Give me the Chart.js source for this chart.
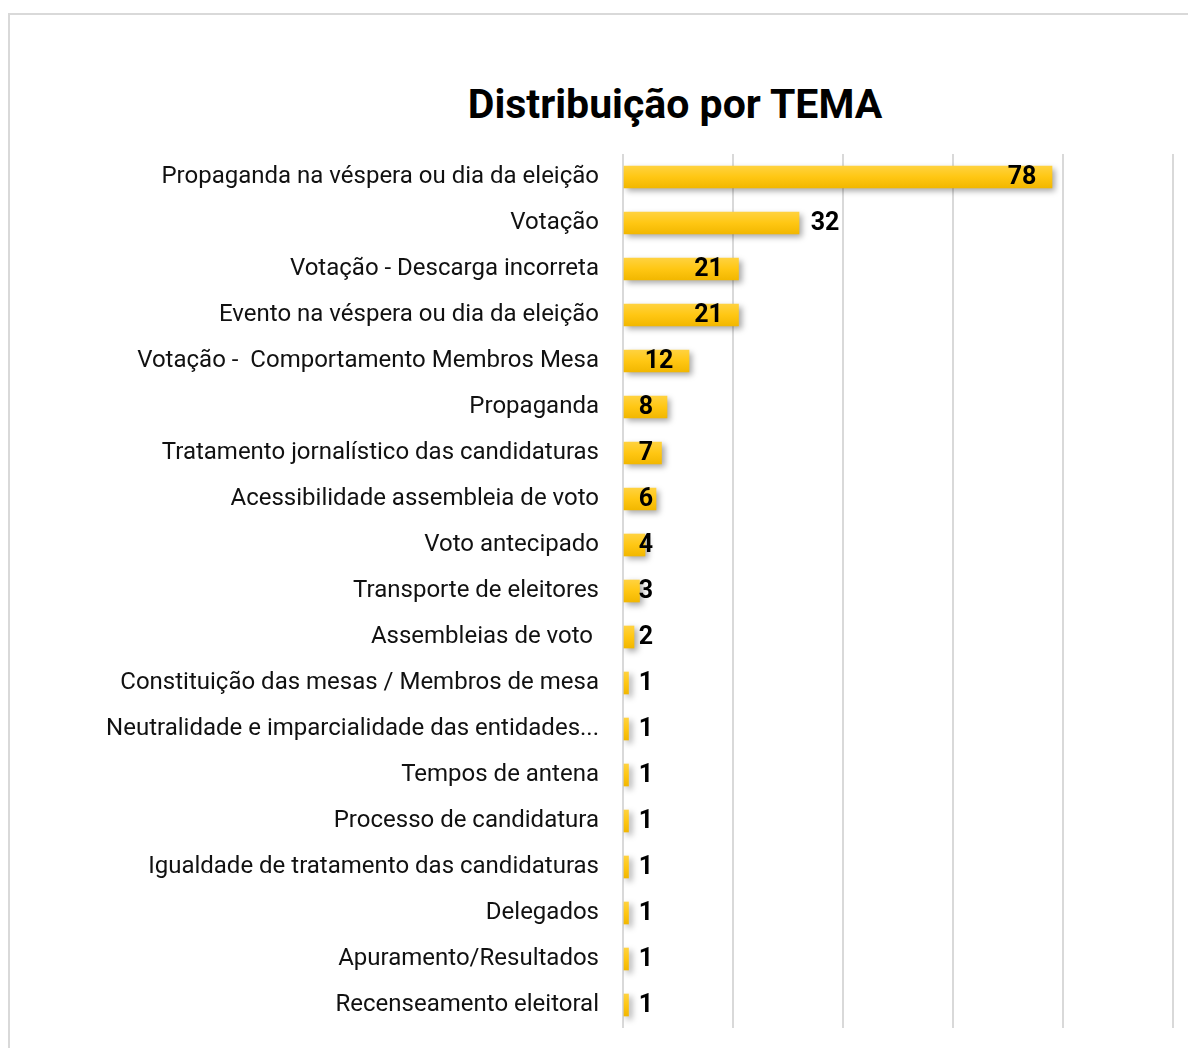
<!DOCTYPE html>
<html>
<head>
<meta charset="utf-8">
<script src="https://cdn.jsdelivr.net/npm/chart.js@4.4.1/dist/chart.umd.min.js"></script>
<style>
    body { margin: 0; background: #fff; }
    #wrap { position: relative; width: 1188px; height: 1048px; overflow: hidden; }
    #frame { position: absolute; left: 8px; top: 13px; width: 1300px; height: 1200px;
             border-left: 2px solid #d9d9d9; border-top: 2px solid #d9d9d9; }
    #title { position: absolute; left: 0; width: 1350px; top: 80px; text-align: center;
             font: bold 41px Roboto, sans-serif; color: #000; margin: 0; }
    canvas { position: absolute; left: 0; top: 0; }
</style>
</head>
<body>
<div id="wrap">
    <div id="frame"></div>
    <h1 id="title">Distribuição por TEMA</h1>
    <canvas id="temaChart" width="1188" height="1048"></canvas>
</div>
<script>
const categories = [
    'Propaganda na véspera ou dia da eleição',
    'Votação',
    'Votação - Descarga incorreta',
    'Evento na véspera ou dia da eleição',
    'Votação -  Comportamento Membros Mesa',
    'Propaganda',
    'Tratamento jornalístico das candidaturas',
    'Acessibilidade assembleia de voto',
    'Voto antecipado',
    'Transporte de eleitores',
    'Assembleias de voto ',
    'Constituição das mesas / Membros de mesa',
    'Neutralidade e imparcialidade das entidades...',
    'Tempos de antena',
    'Processo de candidatura',
    'Igualdade de tratamento das candidaturas',
    'Delegados',
    'Apuramento/Resultados',
    'Recenseamento eleitoral'
];
const counts = [78, 32, 21, 21, 12, 8, 7, 6, 4, 3, 2, 1, 1, 1, 1, 1, 1, 1, 1];
const xTicks = [0, 20, 40, 60, 80, 100];

// bars Excel left with the label outside
const outsideLabels = [1];

function barGradient(context) {
    const chart = context.chart;
    if (!chart.chartArea || context.type !== 'data') return '#FFC61A';
    const y = chart.scales.y.getPixelForValue(context.dataIndex);
    const g = chart.ctx.createLinearGradient(0, y - 11, 0, y + 11);
    g.addColorStop(0, '#FFD23F');
    g.addColorStop(0.5, '#FFC713');
    g.addColorStop(1, '#F2B700');
    return g;
}

const shadowPlugin = {
    id: 'barShadow',
    beforeDatasetsDraw(chart) {
        const ctx = chart.ctx;
        ctx.save();
        ctx.shadowColor = 'rgba(0, 0, 0, 0.35)';
        ctx.shadowBlur = 6;
        ctx.shadowOffsetX = 3;
        ctx.shadowOffsetY = 3;
    },
    afterDatasetsDraw(chart) {
        chart.ctx.restore();
    }
};

const valueLabels = {
    id: 'valueLabels',
    afterDatasetsDraw(chart) {
        const ctx = chart.ctx;
        const meta = chart.getDatasetMeta(0);
        ctx.save();
        ctx.font = 'bold 25px Roboto, sans-serif';
        ctx.fillStyle = '#000';
        ctx.textAlign = 'center';
        ctx.textBaseline = 'middle';
        meta.data.forEach((bar, i) => {
            const txt = String(counts[i]);
            let x;
            if (outsideLabels.includes(i)) {
                x = bar.x + 26;
            } else {
                x = Math.max(bar.x - 30, 646);
            }
            ctx.fillText(txt, x, bar.y + 1);
        });
        ctx.restore();
    }
};

const ctx = document.getElementById('temaChart').getContext('2d');

const chart = new Chart(ctx, {
    type: 'bar',
    data: {
        labels: categories,
        datasets: [{
            data: counts,
            backgroundColor: barGradient,
            borderWidth: 0,
            barThickness: 22
        }]
    },
    options: {
        indexAxis: 'y',
        responsive: false,
        animation: false,
        layout: {
            padding: { top: 154, right: 15, bottom: 20, left: 0 }
        },
        plugins: {
            legend: { display: false },
            tooltip: { enabled: false }
        },
        scales: {
            x: {
                min: 0,
                max: 100,
                afterBuildTicks: (scale) => {
                    scale.ticks = xTicks.map(v => ({ value: v }));
                },
                afterFit: (scale) => { scale.height = 0; },
                ticks: { display: false },
                border: { display: false },
                grid: { color: '#d9d9d9', lineWidth: 2, drawTicks: false }
            },
            y: {
                afterFit: (scale) => {
                    scale.width = 623;
                    scale.paddingTop = 0;
                    scale.paddingBottom = 0;
                },
                ticks: {
                    color: '#111',
                    padding: 24,
                    autoSkip: false,
                    font: { family: 'Roboto, sans-serif', size: 24 }
                },
                border: { display: false },
                grid: { display: false, drawTicks: false }
            }
        }
    },
    plugins: [shadowPlugin, valueLabels]
});
</script>
</body>
</html>
